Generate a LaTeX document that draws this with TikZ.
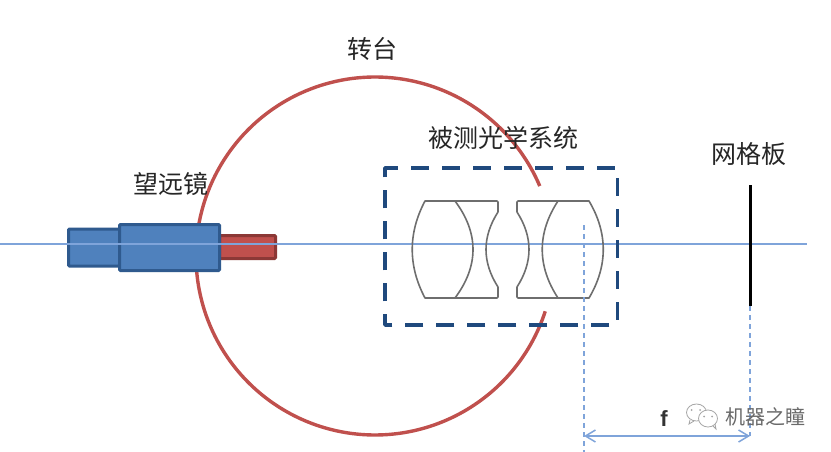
\documentclass[tikz,border=0pt]{standalone}
\usepackage{fontspec}
\usetikzlibrary{arrows.meta}
\setmainfont{Liberation Sans}
\newfontfamily\cjk{Noto Sans CJK SC}
\definecolor{axisblue}{HTML}{7FA4DA}
\definecolor{dimblue}{HTML}{7FA4DA}
\definecolor{navy}{HTML}{1F497D}
\definecolor{scopefill}{HTML}{4F81BD}
\definecolor{scopeedge}{HTML}{2F5A8E}
\definecolor{eyefill}{HTML}{C0504D}
\definecolor{eyeedge}{HTML}{8C3836}
\definecolor{stagered}{HTML}{C0504D}
\definecolor{lensgray}{HTML}{6E6E6E}
\definecolor{markgray}{HTML}{6A6A6A}
\tikzset{
  label cn/.style={font=\cjk\fontsize{25}{25}\selectfont, inner sep=0pt, text=black!85},
  scope body/.style={draw=scopeedge, fill=scopefill, line width=3pt, rounded corners=1pt},
  eyepiece/.style={draw=eyeedge, fill=eyefill, line width=3pt, rounded corners=1pt},
  lens line/.style={draw=lensgray, line width=1.6pt, line join=round},
  guide/.style={draw=dimblue, line width=1.2pt, dash pattern=on 5pt off 4pt},
  bubble/.style={draw=markgray!60, fill=white, line width=0.8pt}
}
\begin{document}
\begin{tikzpicture}[x=1pt,y=-1pt]
\useasboundingbox (0,0) rectangle (831,452);
\fill[white] (0,0) rectangle (831,452);

% turntable
\draw[stagered, line width=3.4pt, domain=18:337, samples=160, smooth]
  plot ({375+179*cos(\x)},{256+179*sin(\x)});

% telescope
\node[scope body, minimum width=51pt, minimum height=37pt, inner sep=0pt, anchor=north west] (rear) at (67,227.5) {};
\node[eyepiece, minimum width=56pt, minimum height=23pt, inner sep=0pt, anchor=north west] (eye) at (218,234) {};
\node[scope body, minimum width=100pt, minimum height=46pt, inner sep=0pt, anchor=north west] (main) at (118,223) {};

% optical axis
\coordinate (axisL) at (0,244);
\coordinate (axisR) at (807,244);
\draw[axisblue, line width=1.3pt] (axisL) -- (axisR);

% lens group: left doublet
\draw[lens line]
  (425,201) -- (497,201) -- (498,202) -- (498,212)
  .. controls (482,237) and (482,262) .. (498,287)
  -- (498,297) -- (497,298) -- (425,298)
  .. controls (408,266) and (408,233) .. (425,201) -- cycle;
\draw[lens line] (455,201) .. controls (479,233) and (479,266) .. (455,298);
% lens group: right doublet
\draw[lens line]
  (589,201) -- (518,201) -- (517,202) -- (517,212)
  .. controls (533,237) and (533,262) .. (517,287)
  -- (517,297) -- (518,298) -- (589,298)
  .. controls (608,266) and (608,233) .. (589,201) -- cycle;
\draw[lens line] (558,201) .. controls (537,233) and (537,266) .. (558,298);

% boundary of the system under test
\draw[navy, line width=3.4pt, dash pattern=on 18pt off 13pt, line join=round]
  (385,173) -- (385,168) -- (617.7,168) -- (617.7,325) -- (385,325) -- cycle;

% reticle
\node[minimum width=3pt, minimum height=121pt, inner sep=0pt, fill=black, anchor=north] (reticle) at (750,185) {};

% focal length guides and dimension
\coordinate (fA) at (584,225);
\coordinate (fB) at (584,452);
\coordinate (dimA) at (584,436);
\coordinate (dimB) at (750,436);
\draw[guide] (fA) -- (fB);
\draw[guide] (reticle.south) -- (dimB);
\draw[dimblue, line width=1.5pt, {Straight Barb[length=10pt,width=12pt,line width=1.5pt]}-{Straight Barb[length=10pt,width=12pt,line width=1.5pt]}] (dimA) -- (dimB);

% labels
\node[label cn] (stage) at (372.5,49) {转台};
\node[label cn] (sut) at (503,138) {被测光学系统};
\node[label cn] (scope) at (170.5,184) {望远镜};
\node[label cn] (grid) at (749,154) {网格板};
\node[font=\bfseries\fontsize{22}{22}\selectfont, inner sep=0pt, text=black!80] (f) at (664,419) {f};

% channel mark
\draw[bubble] (696.5,412.5) ellipse [x radius=10pt, y radius=8.5pt];
\fill[markgray!60] (691.5,410) circle (1pt) (700,410) circle (1pt);
\draw[markgray!60, line width=0.8pt] (690,420) -- (689,424) -- (694,421);
\draw[bubble] (708,418.5) ellipse [x radius=9.5pt, y radius=8.5pt];
\fill[markgray!60] (704,416.5) circle (1pt) (712,416.5) circle (1pt);
\draw[markgray!60, line width=0.8pt] (713,426) -- (716,429) -- (715,424);
\node[font=\cjk\fontsize{20}{20}\selectfont, inner sep=0pt, text=markgray] (mark) at (765,417) {机器之瞳};
\end{tikzpicture}
\end{document}
